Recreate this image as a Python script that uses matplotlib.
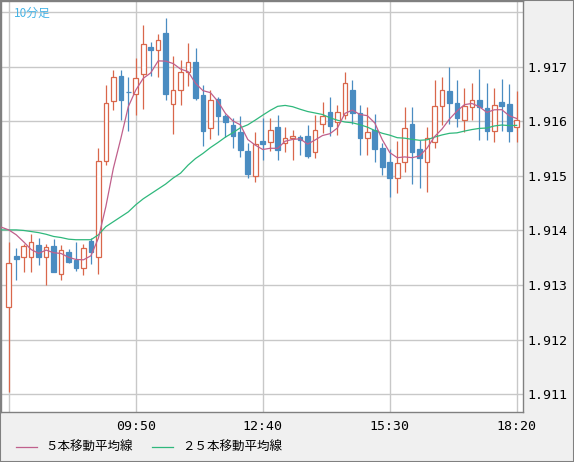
import numpy as np
import pandas as pd
import matplotlib
matplotlib.use('Agg')
import matplotlib.pyplot as plt
from matplotlib.lines import Line2D
from matplotlib.patches import Rectangle

# 10分足 ローソク足 (07:00 - 18:20)
opens = [1.91260, 1.91353, 1.91352, 1.91352, 1.91373, 1.91352, 1.91372, 1.91320, 1.91361, 1.91346,
         1.91332, 1.91381, 1.91352, 1.91528, 1.91638, 1.91683, 1.91654, 1.91650, 1.91686, 1.91736,
         1.91730, 1.91762, 1.91632, 1.91657, 1.91690, 1.91709, 1.91648, 1.91587, 1.91641, 1.91610,
         1.91593, 1.91581, 1.91546, 1.91500, 1.91564, 1.91563, 1.91590, 1.91560, 1.91569, 1.91571,
         1.91573, 1.91544, 1.91596, 1.91618, 1.91598, 1.91612, 1.91657, 1.91616, 1.91569, 1.91585,
         1.91551, 1.91525, 1.91496, 1.91525, 1.91595, 1.91549, 1.91526, 1.91563, 1.91629, 1.91656,
         1.91634, 1.91602, 1.91627, 1.91639, 1.91625, 1.91583, 1.91636, 1.91632, 1.91589]
highs = [1.91378, 1.91367, 1.91376, 1.91394, 1.91387, 1.91375, 1.91384, 1.91373, 1.91366, 1.91379,
         1.91375, 1.91386, 1.91551, 1.91667, 1.91695, 1.91694, 1.91682, 1.91716, 1.91777, 1.91745,
         1.91760, 1.91789, 1.91719, 1.91712, 1.91744, 1.91734, 1.91667, 1.91657, 1.91645, 1.91613,
         1.91607, 1.91609, 1.91561, 1.91580, 1.91606, 1.91607, 1.91612, 1.91589, 1.91584, 1.91575,
         1.91593, 1.91612, 1.91636, 1.91644, 1.91630, 1.91690, 1.91676, 1.91630, 1.91627, 1.91613,
         1.91560, 1.91549, 1.91564, 1.91627, 1.91627, 1.91566, 1.91590, 1.91676, 1.91682, 1.91700,
         1.91676, 1.91662, 1.91670, 1.91696, 1.91670, 1.91662, 1.91678, 1.91668, 1.91656]
lows = [1.91104, 1.91309, 1.91324, 1.91323, 1.91337, 1.91300, 1.91323, 1.91309, 1.91340, 1.91326,
        1.91318, 1.91339, 1.91320, 1.91520, 1.91621, 1.91602, 1.91583, 1.91612, 1.91623, 1.91683,
        1.91682, 1.91639, 1.91576, 1.91630, 1.91665, 1.91639, 1.91554, 1.91567, 1.91575, 1.91572,
        1.91552, 1.91535, 1.91497, 1.91489, 1.91529, 1.91546, 1.91529, 1.91543, 1.91530, 1.91538,
        1.91532, 1.91532, 1.91578, 1.91574, 1.91575, 1.91604, 1.91596, 1.91538, 1.91538, 1.91526,
        1.91502, 1.91461, 1.91468, 1.91508, 1.91486, 1.91478, 1.91471, 1.91552, 1.91593, 1.91596,
        1.91590, 1.91581, 1.91602, 1.91565, 1.91566, 1.91563, 1.91583, 1.91563, 1.91563]
closes = [1.91340, 1.91348, 1.91372, 1.91378, 1.91352, 1.91370, 1.91324, 1.91365, 1.91343, 1.91332,
          1.91367, 1.91361, 1.91527, 1.91633, 1.91681, 1.91640, 1.91653, 1.91679, 1.91741, 1.91731,
          1.91750, 1.91651, 1.91657, 1.91690, 1.91708, 1.91643, 1.91583, 1.91639, 1.91609, 1.91599,
          1.91574, 1.91547, 1.91504, 1.91558, 1.91559, 1.91585, 1.91547, 1.91569, 1.91574, 1.91565,
          1.91536, 1.91585, 1.91610, 1.91591, 1.91617, 1.91670, 1.91615, 1.91570, 1.91580, 1.91550,
          1.91517, 1.91497, 1.91523, 1.91587, 1.91543, 1.91533, 1.91569, 1.91628, 1.91657, 1.91634,
          1.91606, 1.91628, 1.91639, 1.91627, 1.91582, 1.91630, 1.91629, 1.91583, 1.91602]

# 表示範囲より前の足を含む移動平均の値 (足 -1 から)
ma5_head = [1.91406, 1.91401, 1.91392, 1.91379, 1.91365]
ma25_head = [1.91401, 1.91401, 1.91401, 1.91400, 1.91398, 1.91396, 1.91393, 1.91389, 1.91387, 1.91384,
             1.91383, 1.91383, 1.91383, 1.91392, 1.91407, 1.91416, 1.91425, 1.91434, 1.91447, 1.91458,
             1.91467, 1.91476, 1.91485, 1.91496, 1.91505]

x_ticks = [0, 17, 34, 51, 68]
x_labels = ['', '09:50', '12:40', '15:30', '18:20']
y_ticks = [1.911, 1.912, 1.913, 1.914, 1.915, 1.916, 1.917, 1.918]

UP = '#d9674b'
DOWN = '#4a8cc1'
MA5_COLOR = '#c0608c'
MA25_COLOR = '#2fb87c'
GRID = '#c8c8c8'

n = len(closes)
x = np.arange(n)
o = np.array(opens)
c = np.array(closes)
up = c >= o

# moving averages
cs = pd.Series(closes)
ma5 = cs.rolling(5).mean().values
ma5[:4] = ma5_head[1:]
ma5 = np.concatenate([[ma5_head[0]], ma5])
ma25 = cs.rolling(25).mean().values
ma25[:24] = ma25_head[1:]
ma25 = np.concatenate([[ma25_head[0]], ma25])
x_ma = np.arange(-1, n)

fig = plt.figure(figsize=(5.74, 4.62), dpi=100, facecolor='#f0f0f0')
ax = fig.add_axes([1 / 574, 50 / 462, 522 / 574, 411 / 462])
ax.set_facecolor('white')

ax.set_xlim(-1.04, 68.84)
ax.set_ylim(1.910672, 1.918206)

for t in x_ticks:
    ax.axvline(t, color=GRID, lw=1.0, zorder=1)
for t in y_ticks:
    ax.axhline(t, color=GRID, lw=1.0, zorder=1)

colors = [UP if u else DOWN for u in up]
ax.vlines(x, lows, highs, colors=colors, lw=0.9, zorder=2)
bottoms = np.minimum(o, c)
heights = np.maximum(np.abs(c - o), 0.000005)
faces = ['white' if u else DOWN for u in up]
ax.bar(x, heights, bottom=bottoms, width=0.62, color=faces, edgecolor=colors,
       linewidth=0.9, zorder=3)

ax.plot(x_ma, ma25, color=MA25_COLOR, lw=0.9, zorder=4)
ax.plot(x_ma, ma5, color=MA5_COLOR, lw=0.9, zorder=5)

ax.set_xticks(x_ticks)
ax.set_xticklabels(x_labels, family='DejaVu Sans Mono', fontsize=9.5)
ax.set_yticks(y_ticks)
ax.set_yticklabels(['%.3f' % v if v < 1.9175 else '' for v in y_ticks],
                   family='DejaVu Sans Mono', fontsize=9.5)
ax.yaxis.tick_right()
ax.tick_params(axis='both', length=0)
ax.tick_params(axis='y', pad=3)
ax.tick_params(axis='x', pad=6)
for spine in ['left', 'top', 'right', 'bottom']:
    ax.spines[spine].set_color('#808080')
    ax.spines[spine].set_linewidth(1.0)

ax.text(0.025, 0.985, '10分足', transform=ax.transAxes, ha='left', va='top',
        fontsize=8.5, color='#46b4e6', family=['Noto Sans CJK JP', 'DejaVu Sans'])

# legend
leg_y = 1 - 447 / 462
fig.add_artist(Line2D([16 / 574, 37 / 574], [leg_y, leg_y], color=MA5_COLOR, lw=0.9))
fig.text(45 / 574, leg_y, '５本移動平均線', va='center', ha='left', fontsize=9,
         family=['Noto Sans CJK JP', 'DejaVu Sans'])
fig.add_artist(Line2D([152 / 574, 173 / 574], [leg_y, leg_y], color=MA25_COLOR, lw=0.9))
fig.text(182 / 574, leg_y, '２５本移動平均線', va='center', ha='left', fontsize=9,
         family=['Noto Sans CJK JP', 'DejaVu Sans'])

fig.add_artist(Rectangle((0, 0), 1, 1, transform=fig.transFigure, fill=False,
                         edgecolor='#808080', lw=1.5))

plt.savefig('out.png', dpi=100, facecolor=fig.get_facecolor())
